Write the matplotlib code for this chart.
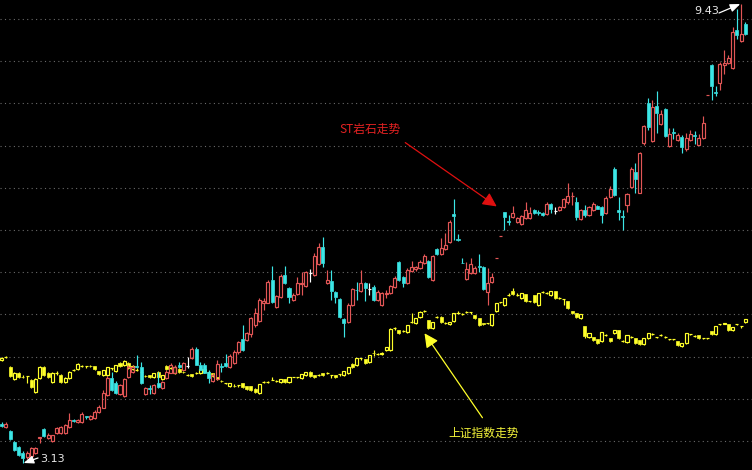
import numpy as np
import matplotlib
matplotlib.use('Agg')
import matplotlib.pyplot as plt

plt.rcParams['font.family'] = ['Noto Sans CJK SC', 'DejaVu Sans']

# ST岩石 daily candles (open, high, low, close)
st_open = [3.67, 3.62, 3.57, 3.42, 3.35, 3.27, 3.21, 3.23, 3.27, 3.48, 3.60, 3.47, 3.43, 3.54, 3.54, 3.54, 3.62, 3.72, 3.69, 3.69,
           3.77, 3.73, 3.75, 3.83, 3.89, 4.06, 4.30, 4.23, 4.08, 4.05, 4.31, 4.38, 4.46, 4.45, 4.08, 4.16, 4.09, 4.23, 4.16, 4.30,
           4.37, 4.37, 4.48, 4.41, 4.46, 4.57, 4.70, 4.48, 4.48, 4.38, 4.26, 4.28, 4.46, 4.50, 4.45, 4.50, 4.65, 4.83, 4.82, 4.90,
           5.02, 5.08, 5.33, 5.33, 5.64, 5.27, 5.41, 5.71, 5.53, 5.37, 5.45, 5.59, 5.56, 5.74, 5.71, 5.86, 6.10, 5.60, 5.63, 5.48,
           5.38, 5.11, 5.07, 5.30, 5.51, 5.49, 5.60, 5.52, 5.55, 5.37, 5.30, 5.45, 5.46, 5.55, 5.89, 5.68, 5.60, 5.77, 5.79, 5.81,
           5.88, 5.90, 5.64, 6.07, 6.00, 6.07, 6.16, 6.55, 6.20, 5.88, 5.66, 5.74, 5.74, 5.83, 5.82, 5.48, 5.62, 5.94, 6.25, 6.57,
           6.45, 6.51, 6.44, 6.41, 6.49, 6.49, 6.60, 6.57, 6.56, 6.55, 6.69, 6.59, 6.60, 6.64, 6.71, 6.79, 6.71, 6.48, 6.60, 6.53,
           6.60, 6.66, 6.64, 6.56, 6.78, 7.17, 6.60, 6.52, 6.67, 6.92, 7.12, 6.84, 7.52, 8.07, 7.55, 8.03, 7.78, 7.99, 7.48, 7.67,
           7.56, 7.61, 7.44, 7.56, 7.63, 7.50, 7.59, 8.18, 8.59, 8.22, 8.35, 8.59, 8.62, 8.55, 9.07, 8.92, 9.16]
st_high = [3.69, 3.69, 3.58, 3.43, 3.36, 3.29, 3.29, 3.35, 3.35, 3.49, 3.61, 3.54, 3.52, 3.62, 3.64, 3.67, 3.82, 3.73, 3.73, 3.83,
           3.78, 3.79, 3.86, 3.92, 4.13, 4.33, 4.38, 4.26, 4.22, 4.30, 4.47, 4.48, 4.61, 4.52, 4.17, 4.20, 4.21, 4.38, 4.26, 4.40,
           4.50, 4.48, 4.52, 4.52, 4.59, 4.72, 4.72, 4.52, 4.50, 4.40, 4.37, 4.54, 4.50, 4.63, 4.62, 4.68, 4.81, 5.02, 4.93, 5.14,
           5.26, 5.39, 5.40, 5.64, 5.83, 5.44, 5.72, 5.83, 5.55, 5.46, 5.68, 5.75, 5.77, 5.79, 6.01, 6.15, 6.23, 5.78, 5.78, 5.49,
           5.40, 5.12, 5.32, 5.53, 5.62, 5.78, 5.62, 5.60, 5.57, 5.50, 5.48, 5.50, 5.58, 5.70, 5.90, 5.70, 5.80, 5.90, 5.84, 5.91,
           6.00, 5.92, 5.99, 6.08, 6.22, 6.29, 6.46, 6.76, 6.27, 5.94, 5.89, 5.94, 5.83, 6.00, 5.84, 5.81, 5.74, 5.94, 6.25, 6.57,
           6.53, 6.66, 6.51, 6.54, 6.71, 6.64, 6.62, 6.60, 6.57, 6.71, 6.70, 6.64, 6.66, 6.77, 6.97, 6.85, 6.78, 6.62, 6.67, 6.66,
           6.71, 6.67, 6.66, 6.79, 6.93, 7.19, 6.78, 6.60, 6.84, 7.19, 7.25, 7.40, 7.77, 8.14, 8.11, 8.24, 7.98, 8.00, 7.73, 7.73,
           7.66, 7.63, 7.66, 7.70, 7.69, 7.65, 7.89, 8.18, 8.60, 8.30, 8.63, 8.80, 8.73, 9.11, 9.36, 9.43, 9.18]
st_low = [3.62, 3.61, 3.45, 3.30, 3.23, 3.13, 3.19, 3.16, 3.25, 3.40, 3.49, 3.46, 3.42, 3.53, 3.53, 3.53, 3.61, 3.69, 3.68, 3.68,
          3.74, 3.72, 3.74, 3.82, 3.88, 4.05, 4.12, 4.08, 4.07, 4.04, 4.30, 4.37, 4.43, 4.22, 4.06, 4.08, 4.08, 4.16, 4.14, 4.28,
          4.36, 4.36, 4.43, 4.40, 4.43, 4.56, 4.47, 4.40, 4.36, 4.23, 4.24, 4.27, 4.38, 4.45, 4.43, 4.49, 4.63, 4.67, 4.80, 4.86,
          5.00, 5.07, 5.23, 5.32, 5.33, 5.26, 5.40, 5.59, 5.33, 5.35, 5.44, 5.44, 5.55, 5.62, 5.70, 5.85, 5.82, 5.59, 5.37, 5.33,
          5.12, 4.86, 5.05, 5.29, 5.37, 5.48, 5.35, 5.44, 5.35, 5.35, 5.29, 5.40, 5.45, 5.53, 5.63, 5.55, 5.59, 5.75, 5.77, 5.79,
          5.86, 5.67, 5.63, 5.98, 5.99, 6.05, 6.15, 6.19, 6.18, 5.87, 5.64, 5.72, 5.72, 5.75, 5.50, 5.30, 5.60, 5.94, 6.25, 6.33,
          6.40, 6.49, 6.43, 6.40, 6.48, 6.48, 6.55, 6.53, 6.52, 6.54, 6.56, 6.55, 6.59, 6.63, 6.69, 6.67, 6.47, 6.47, 6.51, 6.52,
          6.59, 6.61, 6.42, 6.55, 6.77, 6.80, 6.47, 6.33, 6.58, 6.90, 6.84, 6.83, 7.50, 7.70, 7.53, 7.66, 7.77, 7.61, 7.47, 7.58,
          7.55, 7.39, 7.41, 7.55, 7.51, 7.49, 7.58, 8.18, 8.11, 8.17, 8.25, 8.47, 8.60, 8.54, 8.95, 8.91, 9.00]
st_close = [3.64, 3.67, 3.46, 3.31, 3.24, 3.20, 3.27, 3.33, 3.33, 3.49, 3.50, 3.51, 3.51, 3.61, 3.62, 3.65, 3.72, 3.71, 3.72, 3.80,
            3.76, 3.78, 3.83, 3.90, 4.09, 4.30, 4.13, 4.09, 4.20, 4.28, 4.45, 4.45, 4.45, 4.23, 4.16, 4.15, 4.20, 4.17, 4.24, 4.38,
            4.48, 4.45, 4.45, 4.50, 4.46, 4.70, 4.48, 4.41, 4.37, 4.30, 4.34, 4.49, 4.45, 4.46, 4.60, 4.65, 4.79, 4.68, 4.91, 5.12,
            5.19, 5.37, 5.35, 5.62, 5.34, 5.42, 5.70, 5.60, 5.41, 5.44, 5.60, 5.60, 5.75, 5.74, 5.97, 6.10, 5.88, 5.64, 5.49, 5.41,
            5.14, 5.05, 5.30, 5.52, 5.50, 5.60, 5.53, 5.52, 5.37, 5.48, 5.46, 5.46, 5.56, 5.67, 5.64, 5.60, 5.78, 5.82, 5.82, 5.89,
            5.97, 5.68, 5.97, 6.00, 6.08, 6.12, 6.44, 6.52, 6.19, 5.87, 5.79, 5.86, 5.81, 5.82, 5.52, 5.60, 5.68, 5.94, 6.25, 6.51,
            6.44, 6.56, 6.49, 6.52, 6.60, 6.56, 6.56, 6.56, 6.53, 6.69, 6.62, 6.59, 6.64, 6.75, 6.80, 6.80, 6.51, 6.60, 6.53, 6.64,
            6.69, 6.62, 6.53, 6.77, 6.89, 6.81, 6.58, 6.51, 6.82, 7.17, 7.03, 7.39, 7.76, 7.74, 8.02, 7.93, 7.92, 7.62, 7.65, 7.66,
            7.63, 7.47, 7.59, 7.65, 7.62, 7.59, 7.80, 8.18, 8.30, 8.21, 8.61, 8.62, 8.69, 9.05, 9.00, 9.02, 9.02]

# 上证指数 overlay candles (open, high, low, close)
sh_open = [2906, 2928, 2850, 2754, 2802, 2772, 2776, 2746, 2650, 2762, 2850, 2802, 2730, 2800, 2786, 2730, 2762, 2824, 2834, 2856,
           2858, 2858, 2858, 2818, 2786, 2786, 2842, 2818, 2882, 2866, 2882, 2834, 2826, 2812, 2780, 2786, 2770, 2810, 2754, 2858,
           2842, 2802, 2834, 2812, 2786, 2794, 2800, 2802, 2834, 2810, 2802, 2770, 2740, 2722, 2698, 2702, 2704, 2722, 2698, 2698,
           2674, 2642, 2728, 2730, 2746, 2738, 2730, 2754, 2730, 2770, 2770, 2762, 2786, 2810, 2786, 2786, 2802, 2800, 2786, 2786,
           2794, 2786, 2802, 2874, 2866, 2922, 2914, 2890, 2962, 2954, 2958, 2986, 2986, 3160, 3146, 3136, 3130, 3210, 3202, 3250,
           3296, 3226, 3162, 3250, 3250, 3202, 3194, 3218, 3282, 3274, 3290, 3290, 3266, 3242, 3202, 3202, 3186, 3298, 3370, 3346,
           3426, 3458, 3426, 3402, 3434, 3378, 3426, 3346, 3450, 3442, 3426, 3458, 3402, 3394, 3378, 3298, 3282, 3242, 3178, 3090,
           3090, 3074, 3058, 3106, 3082, 3122, 3146, 3058, 3050, 3090, 3082, 3066, 3034, 3082, 3114, 3090, 3106, 3090, 3074, 3074,
           3058, 3018, 3042, 3114, 3098, 3106, 3082, 3082, 3138, 3114, 3194, 3198, 3194, 3146, 3194, 3178, 3210]
sh_high = [2930, 2940, 2856, 2810, 2808, 2784, 2780, 2752, 2760, 2860, 2858, 2810, 2808, 2818, 2794, 2770, 2816, 2836, 2880, 2868,
           2862, 2866, 2862, 2822, 2830, 2854, 2846, 2870, 2888, 2904, 2890, 2866, 2840, 2820, 2790, 2790, 2806, 2816, 2790, 2864,
           2852, 2856, 2840, 2820, 2796, 2798, 2812, 2840, 2840, 2820, 2806, 2774, 2750, 2726, 2726, 2712, 2708, 2726, 2702, 2702,
           2680, 2718, 2740, 2740, 2770, 2746, 2758, 2758, 2774, 2772, 2774, 2798, 2814, 2816, 2790, 2798, 2806, 2812, 2790, 2790,
           2798, 2822, 2854, 2880, 2926, 2926, 2918, 2950, 2986, 2966, 2970, 3014, 3162, 3170, 3150, 3146, 3190, 3280, 3246, 3296,
           3310, 3230, 3214, 3262, 3256, 3214, 3214, 3286, 3296, 3286, 3302, 3294, 3270, 3246, 3206, 3206, 3278, 3366, 3374, 3406,
           3440, 3482, 3440, 3446, 3438, 3382, 3430, 3446, 3462, 3454, 3462, 3462, 3414, 3398, 3382, 3302, 3286, 3278, 3182, 3126,
           3094, 3078, 3134, 3118, 3086, 3150, 3150, 3070, 3110, 3102, 3086, 3070, 3086, 3126, 3126, 3094, 3118, 3102, 3078, 3078,
           3062, 3046, 3126, 3118, 3110, 3110, 3086, 3086, 3142, 3182, 3198, 3202, 3198, 3174, 3198, 3182, 3238]
sh_low = [2900, 2920, 2774, 2750, 2766, 2760, 2722, 2686, 2646, 2756, 2780, 2764, 2726, 2790, 2726, 2726, 2758, 2816, 2830, 2848,
          2846, 2848, 2830, 2790, 2782, 2780, 2830, 2814, 2854, 2862, 2838, 2830, 2816, 2800, 2770, 2766, 2766, 2764, 2750, 2830,
          2834, 2798, 2806, 2800, 2778, 2774, 2794, 2798, 2806, 2800, 2774, 2750, 2730, 2712, 2694, 2692, 2690, 2686, 2670, 2660,
          2646, 2638, 2720, 2722, 2744, 2730, 2726, 2726, 2726, 2768, 2760, 2758, 2782, 2774, 2766, 2776, 2782, 2792, 2762, 2766,
          2782, 2782, 2798, 2846, 2862, 2910, 2878, 2886, 2938, 2944, 2950, 2982, 2982, 3150, 3118, 3128, 3126, 3206, 3198, 3246,
          3290, 3158, 3158, 3240, 3206, 3194, 3190, 3214, 3274, 3264, 3282, 3278, 3238, 3182, 3190, 3194, 3182, 3294, 3362, 3342,
          3418, 3430, 3418, 3398, 3374, 3370, 3366, 3342, 3442, 3434, 3422, 3398, 3394, 3346, 3318, 3278, 3246, 3238, 3082, 3086,
          3062, 3038, 3054, 3098, 3054, 3118, 3078, 3050, 3046, 3082, 3038, 3030, 3030, 3078, 3106, 3080, 3098, 3082, 3064, 3064,
          3022, 3014, 3038, 3104, 3090, 3078, 3072, 3072, 3110, 3110, 3184, 3196, 3142, 3142, 3184, 3166, 3206]
sh_close = [2922, 2930, 2778, 2802, 2770, 2770, 2778, 2690, 2754, 2850, 2786, 2770, 2802, 2802, 2730, 2762, 2810, 2826, 2874, 2858,
            2860, 2856, 2834, 2794, 2826, 2850, 2844, 2866, 2858, 2898, 2842, 2858, 2828, 2810, 2778, 2770, 2802, 2770, 2786, 2834,
            2844, 2850, 2810, 2810, 2788, 2778, 2802, 2834, 2810, 2808, 2778, 2754, 2738, 2724, 2722, 2700, 2706, 2690, 2674, 2666,
            2650, 2714, 2730, 2732, 2748, 2740, 2754, 2730, 2770, 2770, 2772, 2794, 2810, 2778, 2770, 2788, 2786, 2802, 2788, 2770,
            2796, 2818, 2850, 2850, 2922, 2924, 2882, 2946, 2960, 2956, 2962, 3010, 3154, 3162, 3122, 3138, 3186, 3212, 3242, 3290,
            3298, 3162, 3210, 3252, 3210, 3204, 3210, 3282, 3284, 3276, 3292, 3292, 3242, 3186, 3194, 3204, 3274, 3362, 3372, 3402,
            3428, 3434, 3428, 3442, 3378, 3380, 3370, 3442, 3452, 3444, 3458, 3402, 3404, 3396, 3322, 3282, 3250, 3274, 3098, 3122,
            3066, 3042, 3130, 3108, 3058, 3146, 3082, 3060, 3106, 3092, 3042, 3034, 3082, 3122, 3116, 3092, 3108, 3092, 3076, 3076,
            3026, 3042, 3122, 3116, 3100, 3082, 3084, 3084, 3114, 3178, 3196, 3200, 3146, 3170, 3196, 3180, 3234]

high_label = '9.43'
low_label = '3.13'

RED = '#e25656'
CYAN = '#3ce6e6'
YELLOW = '#ffff2a'
BODY_W = 0.72
LW = 0.85

fig = plt.figure(figsize=(7.52, 4.70), dpi=100, facecolor='black')
ax = fig.add_axes([0, 0, 1, 1])
ax.set_facecolor('black')
ax2 = ax.twinx()
for a in (ax, ax2):
    a.set_axis_off()

n = len(st_close)
x = np.arange(n)
ax.set_xlim(-0.40, 177.58)
ax.set_ylim(2026, 5786)
ax2.set_ylim(3.034, 9.485)

# dotted horizontal grid
for k in range(11):
    yf = 1 - (19 + 42.2 * k) / 470
    ax.plot([0, 1], [yf, yf], transform=ax.transAxes, color='#6a6a6a',
            lw=0.8, ls=(0, (1, 3)), zorder=0)


def candles(a, o, h, l, c, up_col, dn_col, flat_cols):
    o, h, l, c = (np.asarray(v, dtype=float) for v in (o, h, l, c))
    top = np.maximum(o, c)
    bot = np.minimum(o, c)
    up = c > o
    dn = c < o
    fl = c == o
    cols = np.where(up, up_col, np.where(dn, dn_col, flat_cols))
    a.vlines(x, top, h, colors=cols, lw=LW, zorder=2)
    a.vlines(x, l, bot, colors=cols, lw=LW, zorder=2)
    a.bar(x[up], (top - bot)[up], bottom=bot[up], width=BODY_W, fill=False,
          edgecolor=up_col, linewidth=LW, zorder=3)
    a.bar(x[dn], (top - bot)[dn], bottom=bot[dn], width=BODY_W, color=dn_col,
          edgecolor=dn_col, linewidth=0.5, zorder=3)
    a.hlines(c[fl], x[fl] - BODY_W / 2, x[fl] + BODY_W / 2,
             colors=np.asarray(cols)[fl], lw=LW, zorder=3)


# index overlay first, stock on top
candles(ax, sh_open, sh_high, sh_low, sh_close, YELLOW, YELLOW, YELLOW)

st_flat = np.where(np.array(st_high) == np.array(st_low), RED, 'white')
candles(ax2, st_open, st_high, st_low, st_close, RED, CYAN, st_flat)

# high / low marks
hi_i = int(np.argmax(st_high))
lo_i = int(np.argmin(st_low))
mark_arrow = dict(arrowstyle='-|>,head_length=0.5,head_width=0.2',
                  color='white', lw=0.9, mutation_scale=12, shrinkA=0, shrinkB=0)
ax2.annotate('', xy=(hi_i - 0.2, st_high[hi_i]), xytext=(719, 457), textcoords='figure pixels',
             arrowprops=mark_arrow)
fig.text(694, 459, high_label, color='#e8e8e8', fontsize=8, family='DejaVu Sans',
         ha='left', va='center', transform=None)
ax2.annotate('', xy=(lo_i + 0.2, st_low[lo_i]), xytext=(38, 12), textcoords='figure pixels',
             arrowprops=mark_arrow)
fig.text(40, 11, low_label, color='#e8e8e8', fontsize=8, family='DejaVu Sans',
         ha='left', va='center', transform=None)

# annotations
ax2.annotate('', xy=(117.7, 6.63), xytext=(403, 329), textcoords='figure pixels',
             arrowprops=dict(arrowstyle='-|>,head_length=0.6,head_width=0.3',
                             color='#e01010', lw=0.9, mutation_scale=14))
fig.text(370, 341, 'ST岩石走势', color='#e42222', fontsize=8.5,
         ha='center', va='center', transform=None)

ax.annotate('', xy=(99.7, 3138), xytext=(484, 50), textcoords='figure pixels',
            arrowprops=dict(arrowstyle='-|>,head_length=0.6,head_width=0.3',
                            color=YELLOW, lw=0.9, mutation_scale=14))
fig.text(484, 37, '上证指数走势', color='#f4f43a', fontsize=8.5,
         ha='center', va='center', transform=None)

fig.savefig('out.png', dpi=100, facecolor='black')
